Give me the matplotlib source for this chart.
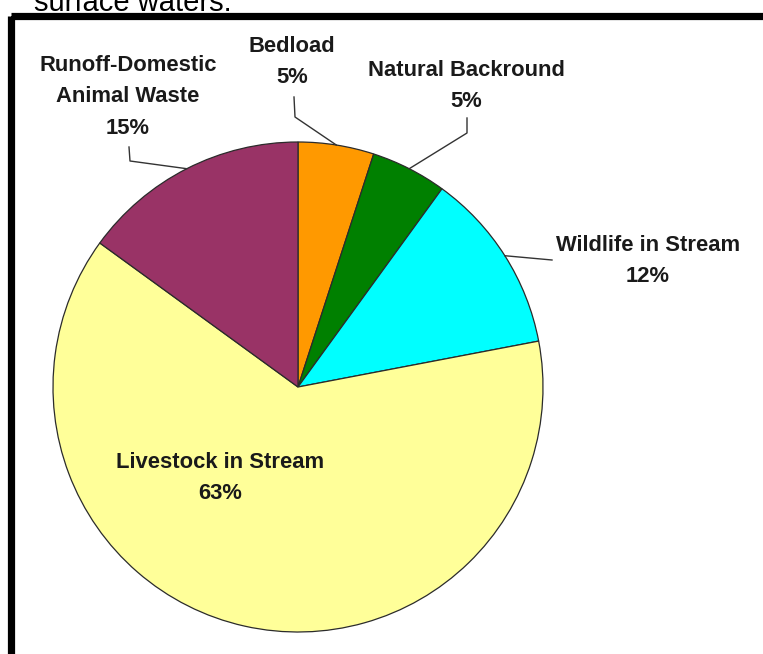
import matplotlib
matplotlib.use('Agg')
import matplotlib.pyplot as plt
import numpy as np
from matplotlib.patches import Rectangle

# slice data, clockwise from 12 o'clock
names = ['Bedload', 'Natural Backround', 'Wildlife in Stream',
         'Livestock in Stream', 'Runoff-Domestic\nAnimal Waste']
shares = [5, 5, 12, 63, 15]
colors = ['#FF9900', '#008000', '#00FFFF', '#FFFF99', '#993366']

# label layout in pixel coords (y down): text centre, leader bend, leader end
text_pos = [(292, 62), (466, 86), (648, 261), (220, 478), (128, 97)]
bend_pos = [(295, 117), (467, 133), (552, 260), None, (130, 161)]
end_pos = [(294, 97), (467, 118), (552, 260), None, (129, 147)]

plt.rcParams['font.family'] = ['Liberation Sans', 'DejaVu Sans']

W, H = 763, 654
fig = plt.figure(figsize=(W / 100, H / 100), dpi=100)
ax = fig.add_axes([0, 0, 1, 1])

center = (298, 387)
radius = 245
# y axis is inverted below, so counterclockwise in data = clockwise on screen
wedges, _ = ax.pie(shares, colors=colors, startangle=-90, counterclock=True,
                   center=center, radius=radius,
                   wedgeprops=dict(edgecolor='#2b2b2b', linewidth=0.9))

ax.set_xlim(0, W)
ax.set_ylim(H, 0)
ax.set_aspect('equal')
ax.axis('off')

for w, name, share, tp, bp, ep in zip(wedges, names, shares, text_pos, bend_pos, end_pos):
    ax.text(tp[0], tp[1], f'{name}\n{share}%', ha='center', va='center',
            multialignment='center', fontsize=15.8, fontweight='bold',
            color='#1a1a1a', linespacing=1.65)
    if bp is None:
        continue
    mid = np.deg2rad((w.theta1 + w.theta2) / 2)
    edge = (center[0] + radius * np.cos(mid), center[1] + radius * np.sin(mid))
    ax.plot([edge[0], bp[0], ep[0]], [edge[1], bp[1], ep[1]],
            color='#333333', linewidth=1.0)

# thick frame, cropped on the right and bottom
ax.add_patch(Rectangle((10.5, 15.5), 800, 700, fill=False,
                       edgecolor='black', linewidth=5.2, clip_on=False))

ax.text(34, 11, 'surface waters.', fontsize=21, ha='left', va='baseline',
        color='black')

fig.savefig('out.png', dpi=100)
